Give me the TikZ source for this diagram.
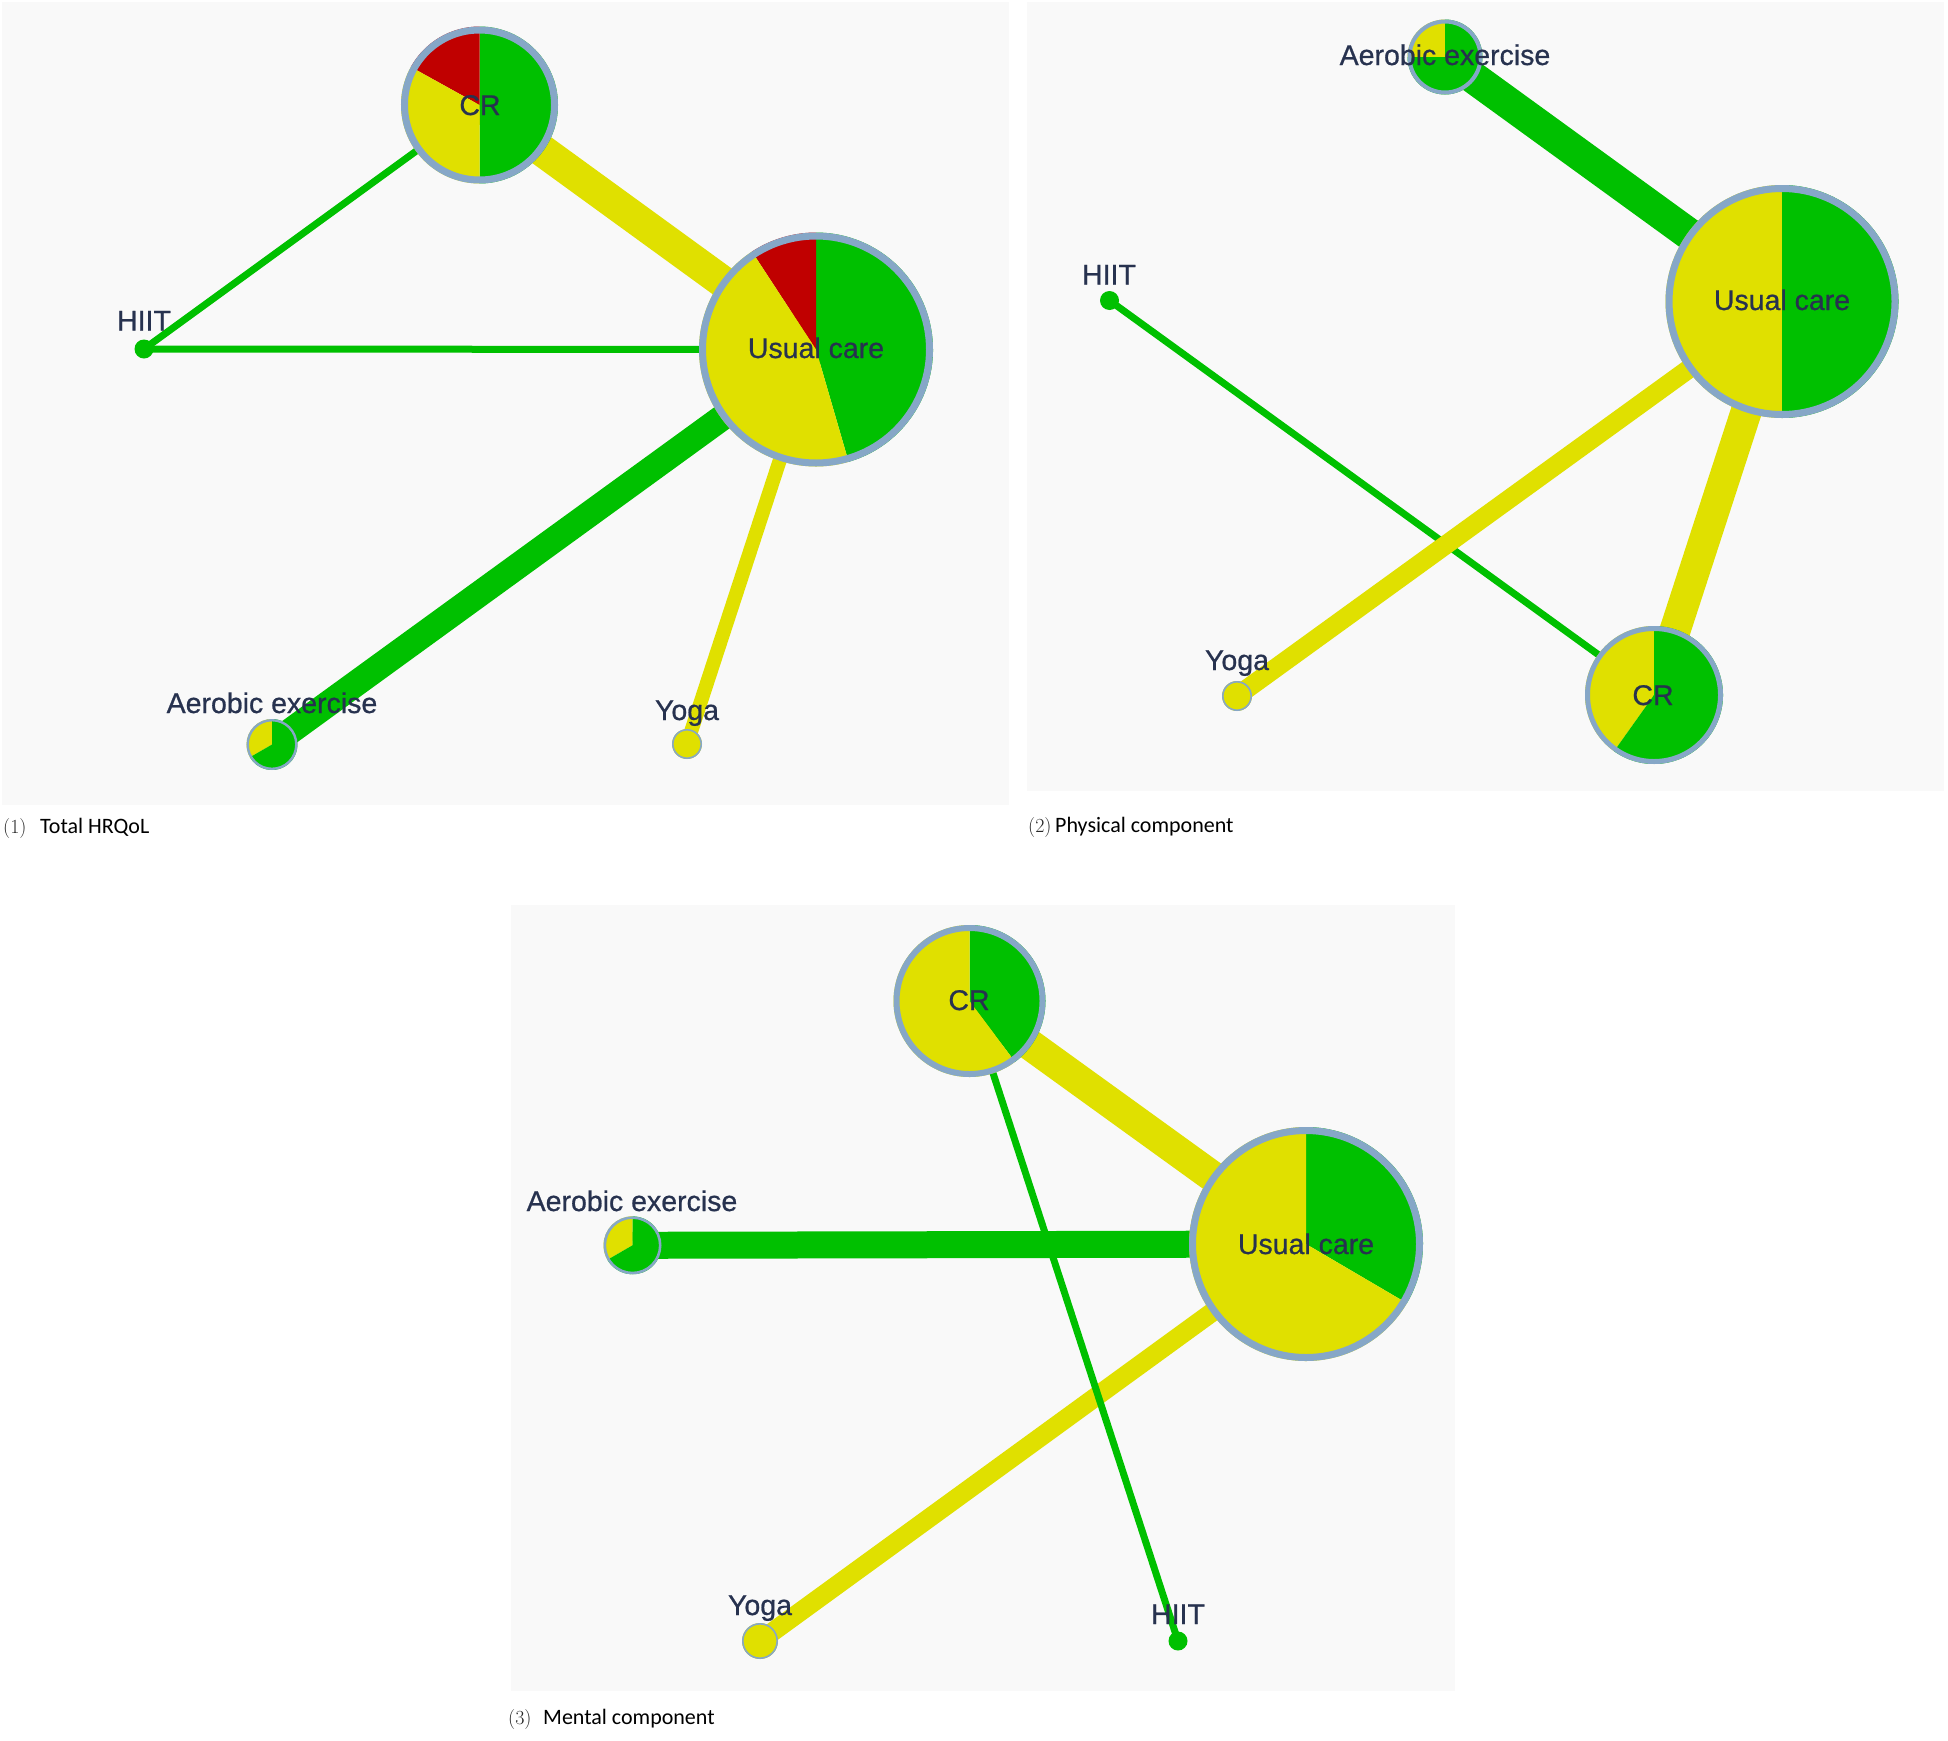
\documentclass[tikz,border=0pt]{standalone}
\usepackage{fontspec}
\newfontfamily\labfont[FakeBold=0.7]{Liberation Sans}
\newfontfamily\capfont{Carlito}
\definecolor{pgreen}{RGB}{0,192,0}
\definecolor{pyellow}{RGB}{224,224,0}
\definecolor{pred}{RGB}{192,0,0}
\definecolor{bgc}{RGB}{249,249,249}
\definecolor{bordc}{RGB}{134,167,199}
\definecolor{txtc}{HTML}{27324F}
\newcommand\slice[5]{\fill[#5] (#1.center) -- ++(#2:#4) arc[start angle=#2,end angle=#3,radius=#4] -- cycle;}
\newcommand\ring[3]{\draw[bordc,line width=#3] (#1.center) circle[radius=#2];}
\tikzset{
  pt/.style={circle,inner sep=0pt,minimum size=#1},
  gedge/.style={draw=pgreen},
  yedge/.style={draw=pyellow},
  lab/.style={font=\labfont\fontsize{28.5}{34}\selectfont,text=txtc,inner sep=0pt,text height=20pt,text depth=0pt,anchor=center},
  capn/.style={font=\capfont\fontsize{22}{26}\selectfont,text=black,inner sep=0pt,anchor=base west},
  capnum/.style={font=\fontsize{20}{24}\selectfont,text=black!85,inner sep=0pt,anchor=base west}
}
\begin{document}
\begin{tikzpicture}[x=1pt,y=-1pt]
\useasboundingbox (0,0) rectangle (1948,1740);
\fill[white] (0,0) rectangle (1948,1740);
% backgrounds
\fill[bgc] (2,2) rectangle (1009,805);
\fill[bgc] (1027,2) rectangle (1944,791);
\fill[bgc] (511,905) rectangle (1455,1691);

% ---------- panel 1 ----------
\node[pt=157pt] (CR1) at (479.5,105) {};
\node[pt=234pt] (UC1) at (816,349.5) {};
\node[pt=19pt] (HIIT1) at (144,349) {};
\node[pt=51pt] (AE1) at (272,744.5) {};
\node[pt=30pt] (YO1) at (687,744) {};
\draw[yedge,line width=32pt] (CR1.center) -- (UC1.center);
\draw[gedge,line width=7pt] (HIIT1.center) -- (CR1.center);
\draw[gedge,line width=7pt] (HIIT1.center) -- (UC1.center);
\draw[gedge,line width=26pt] (AE1.center) -- (UC1.center);
\draw[yedge,line width=14pt] (YO1.center) -- (UC1.center);
\slice{CR1}{-90}{90}{78.5pt}{pgreen}
\slice{CR1}{90}{151}{78.5pt}{pred}
\slice{CR1}{151}{270}{78.5pt}{pyellow}
\ring{CR1}{75pt}{7pt}
\slice{UC1}{-73.8}{90}{117pt}{pgreen}
\slice{UC1}{90}{123.2}{117pt}{pred}
\slice{UC1}{123.2}{286.2}{117pt}{pyellow}
\ring{UC1}{113.5pt}{7pt}
\slice{AE1}{90}{210}{25.5pt}{pyellow}
\slice{AE1}{210}{450}{25.5pt}{pgreen}
\ring{AE1}{24.3pt}{2.4pt}
\fill[pyellow] (YO1.center) circle[radius=15pt];
\ring{YO1}{14.2pt}{1.6pt}
\fill[pgreen] (HIIT1.center) circle[radius=9.5pt];
\node[lab] (lCR1) at (480,105) {CR};
\node[lab] (lUC1) at (816,348) {Usual care};
\node[lab] (lHIIT1) at (144,320.5) {HIIT};
\node[lab] (lAE1) at (272,703) {Aerobic exercise};
\node[lab] (lYO1) at (687,710) {Yoga};
\node[capnum] (c1n) at (3,833) {(1)};
\node[capn] (c1) at (40,833) {Total HRQoL};

% ---------- panel 2 ----------
\node[pt=75pt] (AE2) at (1445,57) {};
\node[pt=19pt] (HIIT2) at (1109.5,300.5) {};
\node[pt=233pt] (UC2) at (1782,301.5) {};
\node[pt=30pt] (YO2) at (1237,696) {};
\node[pt=138pt] (CR2) at (1654,695) {};
\draw[gedge,line width=32pt] (AE2.center) -- (UC2.center);
\draw[gedge,line width=7pt] (HIIT2.center) -- (CR2.center);
\draw[yedge,line width=19pt] (UC2.center) -- (YO2.center);
\draw[yedge,line width=31pt] (UC2.center) -- (CR2.center);
\slice{AE2}{90}{180}{37.5pt}{pyellow}
\slice{AE2}{180}{450}{37.5pt}{pgreen}
\ring{AE2}{35.5pt}{4pt}
\slice{UC2}{90}{270}{116.5pt}{pyellow}
\slice{UC2}{-90}{90}{116.5pt}{pgreen}
\ring{UC2}{113pt}{7pt}
\slice{CR2}{90}{234.6}{69pt}{pyellow}
\slice{CR2}{234.6}{450}{69pt}{pgreen}
\ring{CR2}{66.5pt}{5pt}
\fill[pyellow] (YO2.center) circle[radius=15pt];
\ring{YO2}{14.2pt}{1.6pt}
\fill[pgreen] (HIIT2.center) circle[radius=9.5pt];
\node[lab] (lAE2) at (1445,55) {Aerobic exercise};
\node[lab] (lHIIT2) at (1109,274.5) {HIIT};
\node[lab] (lUC2) at (1782,300) {Usual care};
\node[lab] (lYO2) at (1237,660) {Yoga};
\node[lab] (lCR2) at (1653,695) {CR};
\node[capnum] (c2n) at (1028,832) {(2)};
\node[capn] (c2) at (1055,832) {Physical component};

% ---------- panel 3 ----------
\node[pt=152pt] (CR3) at (969.5,1001) {};
\node[pt=234pt] (UC3) at (1306,1244) {};
\node[pt=58pt] (AE3) at (632.5,1245.3) {};
\node[pt=36pt] (YO3) at (760,1641) {};
\node[pt=19pt] (HIIT3) at (1178,1641) {};
\draw[yedge,line width=31pt] (CR3.center) -- (UC3.center);
\draw[gedge,line width=27pt] (AE3.center) -- (UC3.center);
\draw[yedge,line width=19pt] (UC3.center) -- (YO3.center);
\draw[gedge,line width=7pt] (CR3.center) -- (HIIT3.center);
\slice{CR3}{-53.2}{90}{76pt}{pgreen}
\slice{CR3}{90}{306.8}{76pt}{pyellow}
\ring{CR3}{73pt}{6pt}
\slice{UC3}{-30.4}{90}{117pt}{pgreen}
\slice{UC3}{90}{329.6}{117pt}{pyellow}
\ring{UC3}{113.5pt}{7pt}
\slice{AE3}{90}{210}{29pt}{pyellow}
\slice{AE3}{210}{450}{29pt}{pgreen}
\ring{AE3}{27.7pt}{2.6pt}
\fill[pyellow] (YO3.center) circle[radius=18pt];
\ring{YO3}{17.2pt}{1.6pt}
\fill[pgreen] (HIIT3.center) circle[radius=9.5pt];
\node[lab] (lCR3) at (969,1000) {CR};
\node[lab] (lUC3) at (1306,1244) {Usual care};
\node[lab] (lAE3) at (632,1201) {Aerobic exercise};
\node[lab] (lYO3) at (760,1605) {Yoga};
\node[lab] (lHIIT3) at (1178,1614) {HIIT};
\node[capnum] (c3n) at (508,1724) {(3)};
\node[capn] (c3) at (543,1724) {Mental component};
\end{tikzpicture}
\end{document}
